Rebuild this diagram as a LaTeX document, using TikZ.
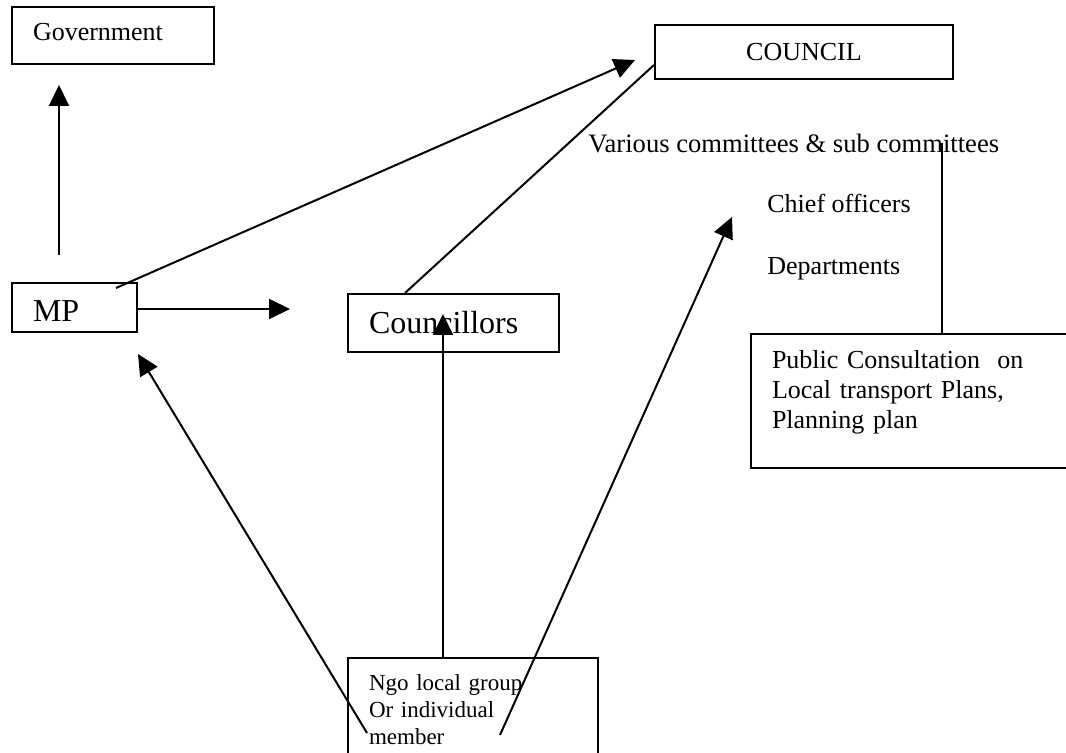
\documentclass[tikz,border=0pt]{standalone}
\usepackage{fontspec}
\setmainfont{Liberation Serif}
\usetikzlibrary{arrows.meta}

\begin{document}
\begin{tikzpicture}[x=0.5pt, y=-0.5pt]
    \tikzset{
        boxed/.style={
            draw, line width=1pt, anchor=north west,
            inner ysep=0pt, inner xsep=10.5pt, align=left,
            font=\fontsize{13pt}{15pt}\selectfont
        },
        bigbox/.style={
            boxed, font=\fontsize{16pt}{18pt}\selectfont
        },
        plaintext/.style={
            anchor=base west, inner sep=0pt,
            font=\fontsize{13pt}{15pt}\selectfont
        },
        link/.style={line width=1pt},
        arr/.style={link, -{Triangle[length=10.5pt, width=10pt]}},
    }

    % ==== Page ====
    \clip (0,0) rectangle (1066,753);
    \fill[white] (0,0) rectangle (1066,753);

    % ==== Boxes ====
    \node[boxed, text width=80pt, text height=17pt, text depth=11.5pt] (gov) at (11,6) {Government};
    \node[boxed, align=center, inner xsep=0pt, text width=149pt,
          text height=18pt, text depth=9pt] (council) at (654,24) {COUNCIL};
    \node[bigbox, text width=41.5pt, text height=19.5pt, text depth=5pt] (mp) at (11,282) {MP};
    \node[bigbox, text width=84.5pt, text height=20pt, text depth=9pt] (cllr) at (347,293) {Councillors};
    \node[boxed, text width=139pt, text height=17.5pt, text depth=49.5pt] (public) at (750,333)
        {Public Consultation\ \ on\\Local transport Plans,\\Planning plan};
    \node[boxed, font=\fontsize{11.5pt}{13.5pt}\selectfont, text width=104pt,
          text height=16pt, text depth=36pt] (ngo) at (347,657)
        {Ngo local group\\Or individual\\member};

    % ==== Council structure ====
    \node[plaintext, font=\fontsize{13.3pt}{15pt}\selectfont] (various) at (588,153) {Various committees \& sub committees};
    \node[plaintext] (chief) at (767,213) {Chief officers};
    \node[plaintext] (depts) at (767,275) {Departments};

    % ==== Connectors ====
    \draw[arr] ([xshift=24pt, yshift=13.5pt]mp.north west) -- ([xshift=24pt, yshift=-10pt]gov.south west);
    \draw[arr] ([xshift=52.5pt, yshift=-3pt]mp.north west) -- ([xshift=-9.5pt, yshift=10pt]council.south west);
    \draw[link] ([xshift=29pt]cllr.north west) -- ([yshift=7.5pt]council.south west);
    \draw[arr] ([yshift=-0.75pt]mp.east) -- ++(76pt,0);
    \draw[link] ([xshift=96pt]public.north west) -- ++(0,95pt);

    \draw[arr] ([xshift=10pt, yshift=-38pt]ngo.north west) -- ([yshift=-10.5pt]mp.south east);
    \draw[arr] ([xshift=48pt]ngo.north west) -- ([xshift=48pt, yshift=19.5pt]cllr.south west);
    \draw[arr] ([xshift=76.5pt, yshift=-39pt]ngo.north west) -- ([xshift=-17.5pt, yshift=-2pt]chief.base west);
\end{tikzpicture}
\end{document}
